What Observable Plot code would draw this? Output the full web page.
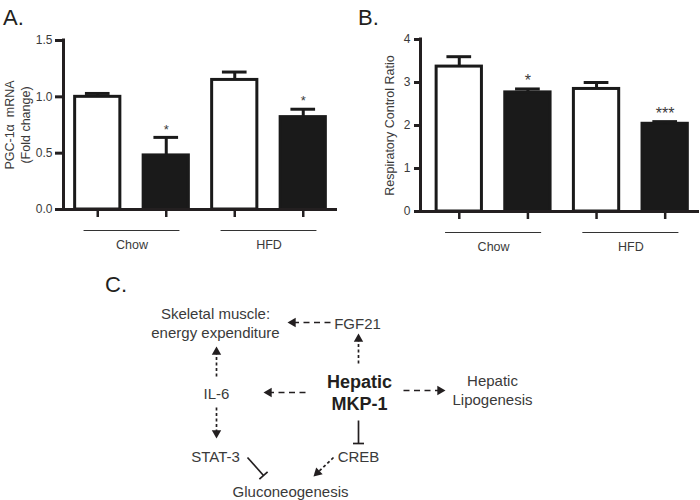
<!DOCTYPE html>
<html><head><meta charset="utf-8">
<script src="https://cdn.jsdelivr.net/npm/d3@7"></script>
<script src="https://cdn.jsdelivr.net/npm/@observablehq/plot@0.6"></script>
<style>
body{margin:0;background:#fff;}
#root{position:relative;width:700px;height:500px;font-family:"Liberation Sans",Arial,sans-serif;color:#231f20;overflow:hidden;}
.panel{position:absolute;}
.lbl{position:absolute;font-size:22px;line-height:1;color:#231f20;}
</style></head><body><div id="root"></div>
<script>
// ---------- data ----------
const groups = ["Chow", "HFD"];
const conditions = ["open", "filled"];           // white bar, black bar
const pgcValues = [1.00, 0.48, 1.15, 0.82];       // PGC-1α mRNA (fold change)
const pgcUpper  = [1.03, 0.64, 1.22, 0.89];       // mean + SEM
const pgcStars  = ["", "*", "", "*"];
const pgcTicks  = [0, 0.5, 1.0, 1.5];
const rcrValues = [3.37, 2.77, 2.85, 2.04];       // Respiratory control ratio
const rcrUpper  = [3.60, 2.85, 3.00, 2.09];
const rcrStars  = ["", "*", "", "***"];
const rcrTicks  = [0, 1, 2, 3, 4];

const panelTitles = ["A.", "B.", "C."];

const diagramNodes = ["Skeletal muscle:\nenergy expenditure", "FGF21", "Hepatic\nMKP-1", "IL-6",
  "Hepatic\nLipogenesis", "STAT-3", "CREB", "Gluconeogenesis"];
const diagramBold = [false, false, true, false, false, false, false, false];
const diagramEdges = [[1,0,"dashed"],[2,1,"dotted"],[2,3,"dashed"],[2,4,"dashed"],[3,0,"dotted"],
  [3,5,"dotted"],[2,6,"inhibit"],[5,7,"inhibit"],[6,7,"dotted"]];
// layout of the diagram (page coordinates)
const diagramNodeXY = [[215,322],[357,322],[359,391],[216,392],[492,389],[215,455],[358,455],[290,490]];
const diagramEdgeXY = [[330,322,287,322],[358,363,358,333],[305,392,263,392],[403,390,445,390],
  [216,376,216,346],[216,407,216,438],[358,420,358,443],[247,457,263,475],[333,457,313,476]];

// ---------- build ----------
const root = document.getElementById("root");
const INK = "#231f20", TXT = "#3a3a3a";
const FONT = "'Liberation Sans', Arial, sans-serif";

function barPanel({values, upper, stars, ticks, fmt, yLabels, left, marginLeft, marginTop, marginBottom, xMin, starSize, tickSize, tickPadding}) {
  const rows = values.map((v, i) => ({
    i, v, u: upper[i], s: stars[i],
    group: groups[Math.floor(i / 2)], cond: conditions[i % 2]
  }));
  const gRows = groups.map((g, k) => ({g, c: 2 * k + 0.5}));
  const yMax = ticks[ticks.length - 1];
  const halfW = 0.33, capW = 0.18;
  const svg = Plot.plot({
    width: 350, height: 260,
    marginLeft, marginRight: 350 - marginLeft - Math.round((3.5 - xMin) * 68.6), marginTop, marginBottom,
    x: {domain: [xMin, 3.5], label: null},
    y: {domain: [0, yMax], label: null},
    style: {fontFamily: FONT, fontSize: "12px", color: INK, background: "transparent", overflow: "visible"},
    marks: [
      Plot.rectY(rows, {x1: d => d.i - halfW, x2: d => d.i + halfW, y1: 0, y2: "v",
        fill: d => d.cond === "open" ? "#fff" : "#1a1a1a", stroke: "#1a1a1a", strokeWidth: 3}),
      Plot.ruleX(rows, {x: "i", y1: "v", y2: "u", stroke: "#1a1a1a", strokeWidth: 3}),
      Plot.ruleY(rows, {y: "u", x1: d => d.i - capW, x2: d => d.i + capW, stroke: "#1a1a1a", strokeWidth: 3}),
      Plot.text(rows, {x: "i", y: "u", text: "s", dy: -8, lineAnchor: "middle", fontSize: starSize, fill: TXT}),
      Plot.ruleX([xMin], {y1: 0, y2: yMax, stroke: INK, strokeWidth: 3, strokeLinecap: "square"}),
      Plot.ruleY([0], {x1: xMin, x2: 3.5, stroke: INK, strokeWidth: 3}),
      Plot.axisY({ticks, tickFormat: fmt, tickSize, tickPadding, stroke: INK, strokeWidth: 3, fill: TXT, fontSize: 12, label: null}),
      Plot.axisX({ticks: [0, 1, 2, 3], tickSize: 8, tickFormat: () => "", stroke: INK, strokeWidth: 2.5, label: null}),
      Plot.ruleY(gRows, {y: 0, x1: d => d.c - 0.7, x2: d => d.c + 0.7, dy: 21, stroke: "#333", strokeWidth: 1}),
      Plot.text(gRows, {x: "c", y: 0, text: "g", dy: 35, fontSize: 12.5, fill: TXT}),
      ...yLabels.map(l => Plot.text([l.text], {x: xMin, y: yMax / 2, text: d => d, dx: l.dx, rotate: -90, fontSize: 12.5, fill: TXT}))
    ]
  });
  svg.classList.add("panel");
  svg.style.left = left + "px";
  svg.style.top = "0px";
  root.appendChild(svg);
}

barPanel({values: pgcValues, upper: pgcUpper, stars: pgcStars, ticks: pgcTicks, fmt: d3.format(".1f"),
  yLabels: [{text: "PGC-1α  mRNA", dx: -54}, {text: "(Fold change)", dx: -38}],
  left: 0, marginLeft: 63, marginTop: 40, marginBottom: 51, xMin: -0.5, starSize: 13, tickSize: 8, tickPadding: 3});
barPanel({values: rcrValues, upper: rcrUpper, stars: rcrStars, ticks: rcrTicks, fmt: d3.format("d"),
  yLabels: [{text: "Respiratory Control Ratio", dx: -31}],
  left: 350, marginLeft: 70, marginTop: 39, marginBottom: 49, xMin: -0.565, starSize: 16, tickSize: 6, tickPadding: 4});

// ---------- diagram ----------
const nodes = diagramNodes.map((t, i) => ({t, b: diagramBold[i], x: diagramNodeXY[i][0], y: diagramNodeXY[i][1]}));
const edges = diagramEdges.map(([f, to, kind], i) => {
  const [x1, y1, x2, y2] = diagramEdgeXY[i];
  const len = Math.hypot(x2 - x1, y2 - y1), ux = (x2 - x1) / len, uy = (y2 - y1) / len;
  return {from: diagramNodes[f], to: diagramNodes[to], kind, x1, y1, x2, y2, ux, uy};
});
const headR = 3.5, headY = Math.sqrt(headR * headR * Math.PI / (Math.sqrt(3) * 3));
const arrows = edges.filter(e => e.kind !== "inhibit");
const inhib = edges.filter(e => e.kind === "inhibit");
const shaft = {x1: "x1", y1: "y1", x2: d => d.x2 - d.ux * headY * 2.6, y2: d => d.y2 - d.uy * headY * 2.6, stroke: INK, strokeWidth: 1.7};
const diag = Plot.plot({
  width: 700, height: 230, margin: 0,
  x: {domain: [0, 700], axis: null},
  y: {domain: [500, 270], axis: null},
  style: {fontFamily: FONT, color: INK, background: "transparent", overflow: "visible"},
  marks: [
    Plot.link(arrows.filter(e => e.kind === "dashed"), {...shaft, strokeDasharray: "6,4.5"}),
    Plot.link(arrows.filter(e => e.kind === "dotted"), {...shaft, strokeDasharray: "3,2.5"}),
    Plot.dot(arrows, {x: d => d.x2 - d.ux * headY * 2, y: d => d.y2 - d.uy * headY * 2, symbol: "triangle", r: headR,
      fill: INK, stroke: null, rotate: d => Math.atan2(d.ux, -d.uy) * 180 / Math.PI}),
    Plot.link(inhib, {x1: "x1", y1: "y1", x2: "x2", y2: "y2", stroke: INK, strokeWidth: 1.7}),
    Plot.link(inhib, {x1: d => d.x2 - d.uy * 5.5, y1: d => d.y2 + d.ux * 5.5, x2: d => d.x2 + d.uy * 5.5, y2: d => d.y2 - d.ux * 5.5,
      stroke: INK, strokeWidth: 1.7}),
    Plot.text(nodes.filter(n => !n.b), {x: "x", y: "y", text: "t", fontSize: 15, lineHeight: 1.25, fill: TXT}),
    Plot.text(nodes.filter(n => n.b), {x: "x", y: "y", text: "t", fontSize: 18, fontWeight: "bold", lineHeight: 1.22, fill: INK})
  ]
});
diag.classList.add("panel");
diag.style.left = "0px";
diag.style.top = "270px";
root.appendChild(diag);

// panel letters
[[panelTitles[0], 3, 7], [panelTitles[1], 358, 7], [panelTitles[2], 105, 274]].forEach(([t, x, y]) => {
  const d = document.createElement("div");
  d.className = "lbl"; d.textContent = t;
  d.style.left = x + "px"; d.style.top = y + "px";
  root.appendChild(d);
});
</script></body></html>
